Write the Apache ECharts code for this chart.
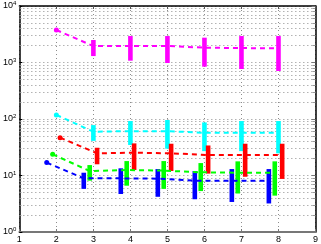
<!DOCTYPE html>
<html><head><meta charset="utf-8">
<script src="https://cdn.jsdelivr.net/npm/echarts@6/dist/echarts.min.js"></script>
<style>html,body{margin:0;padding:0;background:#fff}#c{width:321px;height:244px}</style>
</head><body><div id="c"></div>
<script>
const xs = [2, 3, 4, 5, 6, 7, 8];
const xTicks = [1, 2, 3, 4, 5, 6, 7, 8, 9];
const yTicks = [1, 10, 100, 1000, 10000];

const blueMean = [16.9, 8.9, 8.9, 8.8, 8.1, 8.1, 8.1];
const blueLo = [5.8, 4.7, 4.2, 3.8, 3.4, 3.2];
const blueHi = [11.2, 13.4, 13, 12, 13, 13];

const greenMean = [23.7, 12, 12.5, 12.2, 11.4, 11.2, 11.2];
const greenLo = [8.1, 6.6, 5.8, 5.3, 4.8, 4.4];
const greenHi = [15.3, 18, 18, 16.6, 17.8, 17.8];

const redMean = [46.7, 24.7, 25.3, 24.7, 23, 23, 23];
const redLo = [15.8, 12.5, 12, 10.8, 9.5, 8.7];
const redHi = [31, 37, 36.5, 34, 36.5, 36.5];

const cyanMean = [118, 59.6, 61, 61, 57, 57, 57];
const cyanLo = [41, 34.7, 29.8, 27, 27, 24.7];
const cyanHi = [78, 92, 96, 87, 92, 92];

const magentaMean = [3760, 1950, 1960, 1960, 1830, 1800, 1780];
const magentaLo = [1300, 1077, 980, 843, 767, 708];
const magentaHi = [2500, 2940, 2940, 2750, 2940, 2940];

const groups = [
  {name: 'blue', color: '#0000ff', off: -0.26, mean: blueMean, lo: blueLo, hi: blueHi},
  {name: 'green', color: '#00ff00', off: -0.1, mean: greenMean, lo: greenLo, hi: greenHi},
  {name: 'cyan', color: '#00ffff', off: 0, mean: cyanMean, lo: cyanLo, hi: cyanHi},
  {name: 'red', color: '#ff0000', off: 0.1, mean: redMean, lo: redLo, hi: redHi},
  {name: 'magenta', color: '#ff00ff', off: 0, mean: magentaMean, lo: magentaLo, hi: magentaHi}
];

const series = [];
groups.forEach(g => {
  const barData = g.lo.map((lo, i) => [xs[i + 1] + g.off, lo, g.hi[i]]);
  series.push({
    type: 'custom', name: g.name + 'Err', z: 2,
    renderItem: function (params, api) {
      const p1 = api.coord([api.value(0), api.value(1)]);
      const p2 = api.coord([api.value(0), api.value(2)]);
      return {type: 'rect', shape: {x: p1[0] - 2.3, y: p2[1], width: 4.6, height: p1[1] - p2[1]},
        style: {fill: g.color}};
    },
    data: barData
  });
  series.push({
    type: 'line', name: g.name, z: 3,
    data: g.mean.map((v, i) => [xs[i] + g.off, v]),
    symbol: 'circle',
    symbolSize: function (v, p) { return p.dataIndex === 0 ? 5 : 0; },
    showSymbol: true,
    itemStyle: {color: g.color},
    lineStyle: {color: g.color, width: 2, type: [5, 4]},
    animation: false
  });
});

const labelRich = {
  b: {fontSize: 9, fontFamily: 'Liberation Sans', color: '#000'},
  s: {fontSize: 6, fontFamily: 'Liberation Sans', color: '#000', verticalAlign: 'top', padding: [0, 0, 5, 0]}
};
const gridDot = {color: '#8c8c8c', width: 1, type: [1, 3]};

const chart = echarts.init(document.getElementById('c'), null, {renderer: 'canvas'});
chart.setOption({
  animation: false,
  grid: {left: 16, right: 3, top: 6, bottom: 12, containLabel: false},
  xAxis: [{
    type: 'value', min: 1, max: 9, interval: 1,
    axisLine: {show: true, onZero: false, lineStyle: {color: '#777', width: 2}},
    axisTick: {show: true, inside: true, length: 3, lineStyle: {color: '#777'}},
    axisLabel: {fontSize: 9, fontFamily: 'Liberation Sans', color: '#000', margin: 3,
      formatter: v => xTicks.includes(v) ? String(v) : ''},
    splitLine: {show: true, lineStyle: gridDot}
  }, {
    type: 'value', position: 'top', min: 1, max: 9, interval: 1,
    axisLine: {show: true, onZero: false, lineStyle: {color: '#000', width: 1.5}},
    axisTick: {show: true, inside: true, length: 3, lineStyle: {color: '#555'}},
    axisLabel: {show: false}, splitLine: {show: false}
  }],
  yAxis: [{
    type: 'log', logBase: 10, min: 1, max: 10000,
    axisLine: {show: true, onZero: false, lineStyle: {color: '#000', width: 1.5}},
    axisTick: {show: true, inside: true, length: 3, lineStyle: {color: '#000'}},
    minorTick: {show: true, splitNumber: 9, length: 2, lineStyle: {color: '#888'}},
    axisLabel: {margin: 3, rich: labelRich,
      formatter: v => {
        const e = Math.round(Math.log10(v));
        return yTicks.includes(v) ? '{b|10}{s|' + e + '}' : '';
      }},
    splitLine: {show: true, lineStyle: gridDot},
    minorSplitLine: {show: true, lineStyle: gridDot}
  }, {
    type: 'log', logBase: 10, min: 1, max: 10000, position: 'right',
    axisLine: {show: true, onZero: false, lineStyle: {color: '#000', width: 1.5}},
    axisTick: {show: true, inside: true, length: 4, lineStyle: {color: '#777'}},
    minorTick: {show: true, splitNumber: 9, length: 3, lineStyle: {color: '#999'}},
    axisLabel: {show: false}, splitLine: {show: false}
  }],
  series: series
});
</script></body></html>
